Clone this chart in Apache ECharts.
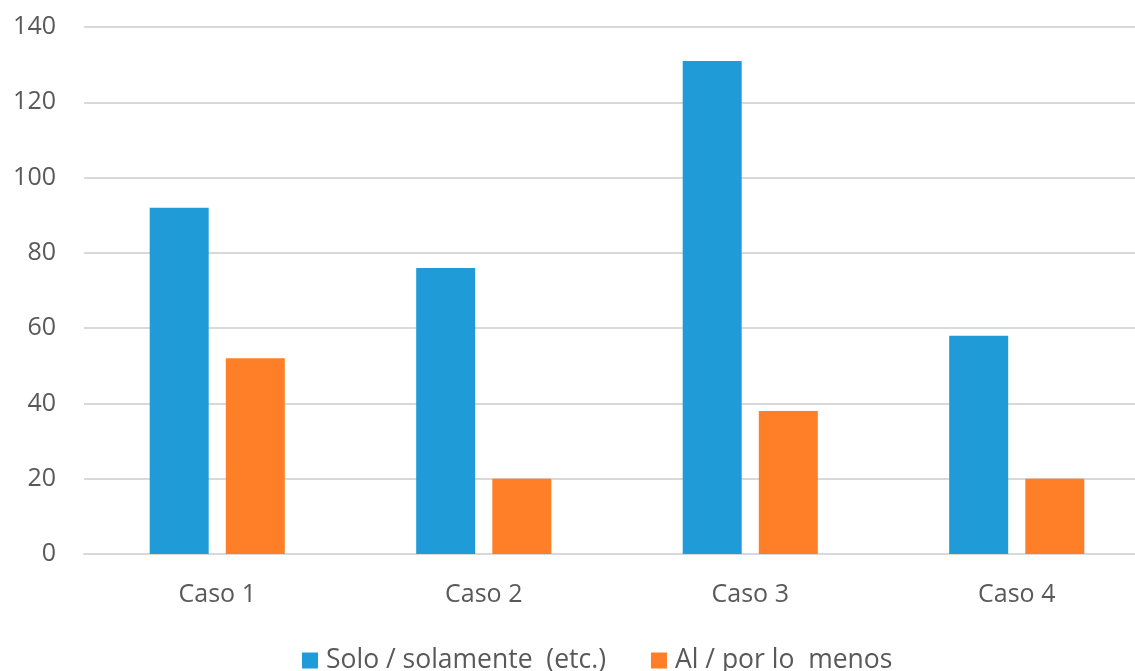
<!DOCTYPE html>
<html><head><meta charset="utf-8">
<script src="https://cdn.jsdelivr.net/npm/echarts@6/dist/echarts.min.js"></script>
<style>html,body{margin:0;padding:0;background:#fff;overflow:hidden;width:1135px;height:671px}#c{width:1150px;height:671px}</style>
</head><body><div id="c"></div>
<script>
const categories = ['Caso 1', 'Caso 2', 'Caso 3', 'Caso 4'];
const seriesNames = ['Solo / solamente  (etc.)', 'Al / por lo  menos'];
const soloValues = [92, 76, 131, 58];
const alValues = [52, 20, 38, 20];
const yTicks = { min: 0, max: 140, interval: 20 };

const font = '"Open Sans", "Liberation Sans", sans-serif';
const chart = echarts.init(document.getElementById('c'), null, { renderer: 'canvas' });
chart.setOption({
  animation: false,
  textStyle: { fontFamily: font },
  grid: { left: 84, right: 0, top: 27, bottom: 117, containLabel: false },
  legend: {
    top: 642, left: 297,
    itemWidth: 16, itemHeight: 16, itemGap: 45,
    icon: 'rect',
    textStyle: { fontSize: 26.5, color: '#595959', fontFamily: font, padding: [0, 0, 0, 3] },
    data: seriesNames
  },
  xAxis: {
    type: 'category', data: categories,
    axisLine: { show: true, lineStyle: { color: '#d9d9d9', width: 2 } },
    axisTick: { show: false },
    axisLabel: { fontSize: 25, color: '#595959', margin: 28, fontFamily: font }
  },
  yAxis: {
    type: 'value', min: yTicks.min, max: yTicks.max, interval: yTicks.interval,
    axisLine: { show: false }, axisTick: { show: false },
    splitLine: { lineStyle: { color: '#d9d9d9', width: 2 } },
    axisLabel: { fontSize: 25, color: '#595959', margin: 28, fontFamily: font }
  },
  series: [
    { name: seriesNames[0], type: 'bar', data: soloValues, barWidth: 59, barGap: '29%',
      itemStyle: { color: '#1f9cd8' } },
    { name: seriesNames[1], type: 'bar', data: alValues, barWidth: 59, barGap: '29%',
      itemStyle: { color: '#fe7f27' } }
  ]
});
</script></body></html>
